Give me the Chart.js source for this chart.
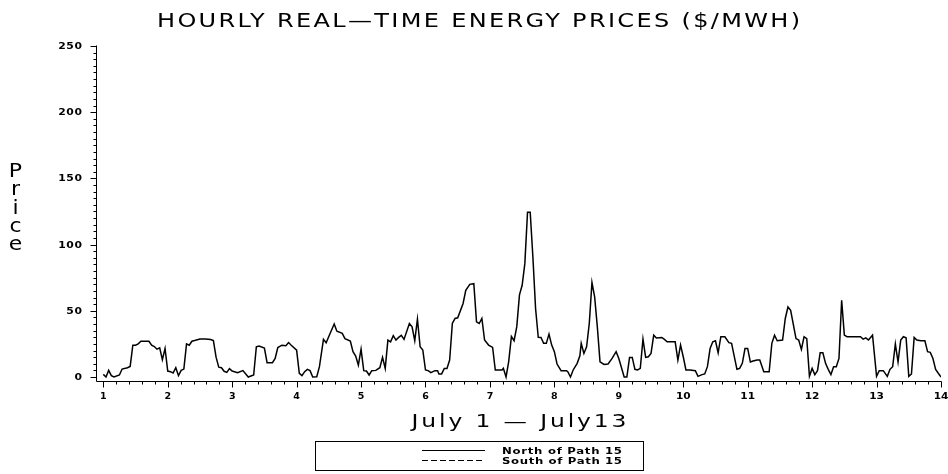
<!DOCTYPE html>
<html>
<head>
<meta charset="utf-8">
<script src="https://cdn.jsdelivr.net/npm/chart.js@4.4.1/dist/chart.umd.min.js"></script>
<style>
  html, body { margin: 0; padding: 0; background: #fff; }
  #wrap { width: 948px; height: 474px; }
</style>
</head>
<body>
<div id="wrap"><canvas id="priceChart" width="948" height="474"></canvas></div>
<script>
const titleText = "HOURLY REAL—TIME ENERGY PRICES ($/MWH)";
const xTitle = "July 1 — July13";
const yTitle = "Price";
const seriesNames = ["North of Path 15", "South of Path 15"];
const xTicks = [1, 2, 3, 4, 5, 6, 7, 8, 9, 10, 11, 12, 13, 14];
const yTicks = [0, 50, 100, 150, 200, 250];

// hours since July 1 00:00, one line per day
const hours = [
  0, 1, 2, 3, 4, 6, 7, 9, 10, 11, 12, 13, 14, 16, 17, 18, 19, 20, 21, 22, 23,
  24, 25, 26, 27, 28, 29, 30, 31, 32, 33, 34, 36, 38, 40, 41, 42, 43, 44, 45, 46, 47,
  48, 50, 52, 54, 56, 57, 58, 60, 61, 63, 64, 65, 66.5, 68, 69, 70,
  72, 73, 74, 75, 76, 77, 78, 79.5, 80.5, 82, 83, 84.5, 86, 87, 89, 90, 92, 93, 94, 95,
  96, 97, 98, 99, 100, 101.5, 103, 104, 105, 106, 107, 108, 109, 110, 111, 112, 114, 115, 116, 117, 118, 119,
  120, 121, 122, 123.5, 124.5, 125, 126, 127, 128, 129, 130, 131, 132, 134, 135, 136.5, 138, 139, 140, 141, 142, 143.5,
  145, 146, 148.5, 149, 150, 151, 152, 153, 154, 155, 156, 157, 158, 159, 160, 161, 162, 163, 164, 165, 166, 167,
  168, 169, 170.5, 172.5, 173, 174, 175, 176.5, 177.5, 178, 179, 180, 181, 182, 183, 184, 185, 186.5, 188, 189.5, 191,
  192, 194, 195, 196, 197, 198, 199, 200, 201, 202, 203, 204, 205, 206, 208, 209, 210, 212, 213, 214, 215,
  216, 217, 218.5, 220.5, 221.5, 223, 224, 225, 226, 227, 228, 229, 230, 231.5, 233, 234, 236, 237, 238, 239,
  240, 241, 242, 243.5, 244.5, 246, 248, 249, 250, 251, 253, 254, 255, 256, 258, 259, 260, 261, 262, 263,
  264, 265, 266, 267, 268, 269, 270, 271, 272, 273, 274, 275, 276, 277, 279, 282, 283, 284, 285, 286.5,
  288, 289, 290.5, 292, 293, 294, 295, 296, 297, 298, 299, 300, 301, 302, 303, 304.5, 306, 307, 308, 309, 310, 311, 312
];

const north = [
  2, 0, 5, 1, 0, 1.5, 6, 7, 8, 24, 24, 25, 27, 27, 27, 24, 23, 21, 22, 13, 21.5,
  4.5, 4, 3, 7, 1, 5, 6, 25, 24, 27, 27.5, 28.7, 28.7, 28.3, 27.5, 15, 7.4, 7, 4.3, 3.5, 6.3,
  4.5, 3.3, 4.8, 0, 1.5, 22.8, 23.3, 21.8, 10.8, 10.8, 14, 22.3, 24, 23.6, 26, 24,
  20.3, 2.8, 1, 4, 5.8, 4.8, 0, 0.2, 7.8, 28.4, 25.9, 33, 40, 34.6, 33, 29, 27.2, 19.1, 15.8, 9,
  21, 4.8, 4.5, 1.5, 4.8, 5, 7, 14.8, 6.5, 27.9, 26.6, 31.2, 27.9, 29.9, 31.4, 28.4, 40.4, 37.9, 27.4, 43.7, 22.8, 20.3,
  5.3, 4.8, 3.3, 4.8, 4.8, 2.3, 2.3, 6.5, 6.5, 12.8, 40.4, 44.2, 44.7, 55.5, 65.5, 70, 70.5, 41.6, 40.4, 44.2, 27.9, 24.1,
  22.3, 5.3, 5.3, 6.5, 0, 11.8, 30.6, 27.4, 38, 62, 69.3, 85.6, 124.5, 124.5, 90.6, 51.7, 30, 29.9, 25.4, 25.4, 32.4, 24.1,
  19.1, 9.8, 4.8, 4.8, 4, 0, 5.3, 10.3, 16, 25.4, 17.8, 22.8, 40.4, 71.3, 60.5, 37.9, 11.5, 9.5, 9.8, 14, 19.1,
  14, 0, 0, 14.8, 14.8, 5.8, 5.3, 6.5, 28.6, 14.8, 15.3, 17.8, 31.6, 29.5, 29.9, 28.4, 26.6, 26.6, 26.6, 12.8, 24.1,
  15.3, 5.3, 5.3, 4.8, 0.5, 1.8, 2.3, 7.8, 21.5, 26.6, 27.4, 18.3, 30.4, 30.4, 25.9, 25.4, 5.8, 6.5, 10.3, 21.5,
  21.5, 11.3, 12.1, 12.8, 12.8, 4, 4, 25.4, 31.6, 27.4, 27.9, 44.2, 52.9, 50.4, 29, 27.9, 20.8, 30.4, 29, 0.5,
  6.5, 1.8, 4.8, 18.3, 18.3, 10.3, 5.8, 1.8, 7.8, 7.8, 14, 58, 31.6, 30.4, 30.4, 30.4, 28.6, 29.6, 27.9, 31.6,
  0.5, 4.8, 4.8, 0.5, 5.8, 7.8, 24.9, 11.3, 27.9, 30.4, 29.6, 0.5, 2.3, 29.9, 27.9, 27.4, 27.4, 19.1, 18.6, 14, 5.8, 2.8, 0
];

// no South of Path 15 values are drawn in the source
const south = [];

const toPoints = (vals) => vals.map((v, i) => ({ x: 1 + hours[i] / 24, y: v }));

// wide plotter-style text: stretch glyphs by sx, then pad with letter spacing to fill width
function wideText(ctx, text, cx, y, width, sx) {
  ctx.letterSpacing = "0px";
  const raw = ctx.measureText(text).width;
  const n = [...text].length;
  const s = Math.min(sx, width / raw);
  const ls = n > 1 ? (width - raw * s) / (n - 1) / s : 0;
  ctx.save();
  ctx.translate(cx - width / 2, y);
  ctx.scale(s, 1);
  ctx.letterSpacing = ls + "px";
  ctx.textAlign = "left";
  ctx.fillText(text, 0, 0);
  ctx.restore();
}

const framePlugin = {
  id: "frame",
  afterDraw(chart) {
    const { ctx, chartArea: area, scales } = chart;
    const xs = scales.x, ys = scales.y;
    ctx.save();
    ctx.strokeStyle = "#000";
    ctx.fillStyle = "#000";
    ctx.lineWidth = 1;

    // axis lines
    const ax = Math.round(area.left) - 0.5;
    const ay = Math.round(area.bottom) - 0.5;
    ctx.beginPath();
    ctx.moveTo(ax, Math.round(ys.getPixelForValue(250)) - 0.5);
    ctx.lineTo(ax, ay);
    ctx.lineTo(Math.round(xs.getPixelForValue(14)) + 0.5, ay);
    ctx.stroke();

    // y ticks every 5, long ones every 50
    ctx.beginPath();
    for (let v = 0; v <= 250; v += 5) {
      const py = Math.round(ys.getPixelForValue(v)) + 0.5;
      const len = v % 50 === 0 ? 6 : 3;
      ctx.moveTo(ax - len, py);
      ctx.lineTo(ax, py);
    }
    // x ticks every 0.2 day
    for (let i = 5; i <= 70; i++) {
      const px = Math.round(xs.getPixelForValue(i / 5)) + 0.5;
      const len = i % 5 === 0 ? 6 : 3;
      ctx.moveTo(px, ay);
      ctx.lineTo(px, ay + len);
    }
    ctx.stroke();

    // tick labels
    ctx.font = "bold 8px 'DejaVu Sans'";
    ctx.textBaseline = "alphabetic";
    yTicks.forEach((v) => {
      const s = String(v);
      const w = 8.1 * s.length - 0.5;
      wideText(ctx, s, 82 - w / 2, ys.getPixelForValue(v) + 3, w, 1.35);
    });
    xTicks.forEach((v) => {
      const s = String(v);
      const w = 8.1 * s.length - 1.5;
      wideText(ctx, s, xs.getPixelForValue(v), 398.5, w, 1.35);
    });

    // title
    ctx.font = "20px 'DejaVu Sans'";
    wideText(ctx, titleText, 478.5, 27, 643, 1.2);

    // x axis title
    ctx.font = "18px 'DejaVu Sans'";
    wideText(ctx, xTitle, (area.left + area.right) / 2, 427, 215, 1.3);

    // y axis title, one letter per line
    ctx.font = "20px 'DejaVu Sans'";
    ctx.textAlign = "center";
    [...yTitle].forEach((ch, i) => {
      ctx.save();
      ctx.translate(15.5, 177 + i * 18.3);
      ctx.scale(1.1, 1);
      ctx.fillText(ch, 0, 0);
      ctx.restore();
    });

    // legend box
    ctx.strokeRect(315.5, 441.5, 328, 29);
    ctx.font = "bold 9px 'DejaVu Sans'";
    chart.data.datasets.forEach((ds, i) => {
      const ly = 450.5 + i * 10;
      ctx.save();
      ctx.strokeStyle = ds.borderColor;
      ctx.lineWidth = 1;
      ctx.setLineDash(ds.borderDash || []);
      ctx.beginPath();
      ctx.moveTo(422, ly);
      ctx.lineTo(485, ly);
      ctx.stroke();
      ctx.restore();
      wideText(ctx, ds.label, 562, 453.5 + i * 10, 120, 1.3);
    });
    ctx.restore();
  }
};

new Chart(document.getElementById("priceChart"), {
  type: "line",
  data: {
    datasets: [
      {
        label: seriesNames[0],
        data: toPoints(north),
        borderColor: "#000",
        borderWidth: 1.5,
        pointRadius: 0,
        tension: 0
      },
      {
        label: seriesNames[1],
        data: toPoints(south),
        borderColor: "#000",
        borderWidth: 1.5,
        borderDash: [6, 3],
        pointRadius: 0,
        tension: 0
      }
    ]
  },
  options: {
    responsive: false,
    animation: false,
    devicePixelRatio: 1,
    layout: { padding: { left: 97, right: 7, top: 46, bottom: 92 } },
    scales: {
      x: { type: "linear", min: 0.9022, max: 14, display: false },
      y: { min: -3.78, max: 250, display: false }
    },
    plugins: {
      legend: { display: false },
      tooltip: { enabled: false },
      title: { display: false }
    }
  },
  plugins: [framePlugin]
});
</script>
</body>
</html>
